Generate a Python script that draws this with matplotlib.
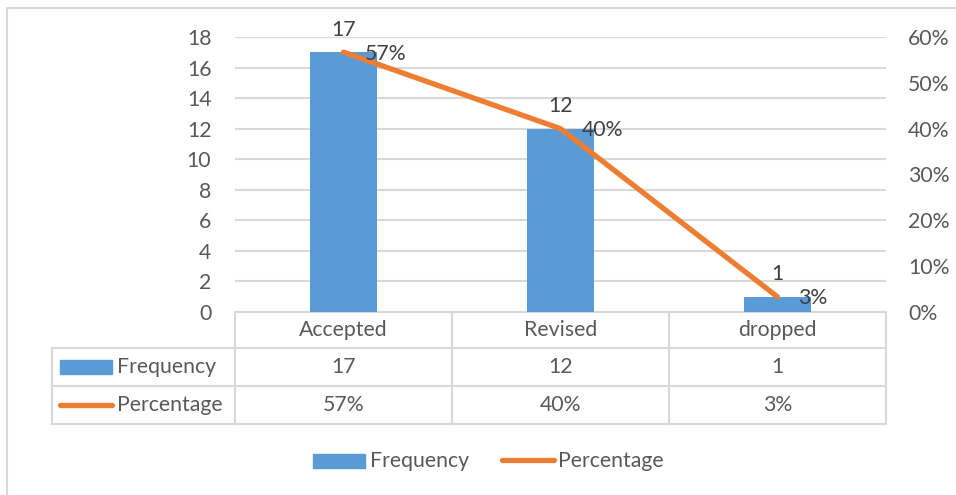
import matplotlib
matplotlib.use('Agg')
import matplotlib.pyplot as plt
from matplotlib.patches import Rectangle
from matplotlib.lines import Line2D

plt.rcParams['font.family'] = ['Lato', 'DejaVu Sans']

categories = ['Accepted', 'Revised', 'dropped']
frequency = [17, 12, 1]
percentage = [0.567, 0.40, 0.033]
pct_labels = ['57%', '40%', '3%']
left_ticks = [0, 2, 4, 6, 8, 10, 12, 14, 16, 18]
right_ticks = [0, 0.1, 0.2, 0.3, 0.4, 0.5, 0.6]

BLUE = '#5B9BD5'
ORANGE = '#ED7D31'
GRID = '#D9D9D9'
TXT = '#595959'
FS = 15.3

W, H = 956, 495
fig = plt.figure(figsize=(W / 100, H / 100), dpi=100)

# overlay in pixel coords for frame, table and legend
ov = fig.add_axes([0, 0, 1, 1])
ov.set_xlim(0, W)
ov.set_ylim(H, 0)
ov.axis('off')
ov.plot([7, 7, W], [H, 8, 8], color=GRID, lw=1.5)

x0, x1, y0, y1 = 235, 886, 37, 312
ax = fig.add_axes([x0 / W, 1 - y1 / H, (x1 - x0) / W, (y1 - y0) / H])
ax.set_xlim(-0.5, len(categories) - 0.5)
ax.set_ylim(0, 18)
ax.set_yticks(left_ticks)
ax.set_xticks([])
ax.grid(axis='y', color=GRID, lw=1.5)
ax.set_axisbelow(True)
for s in ax.spines.values():
    s.set_visible(False)
ax.tick_params(axis='y', length=0, labelsize=FS, labelcolor=TXT, pad=17)

xs = list(range(len(categories)))
ax.bar(xs, frequency, width=0.313, color=BLUE, zorder=2)
for x, v in zip(xs, frequency):
    ax.annotate(str(v), (x, v), xytext=(0, 9), textcoords='offset points',
                ha='center', va='bottom', fontsize=FS, color='#404040')

ax2 = ax.twinx()
ax2.set_ylim(0, 0.6)
ax2.set_yticks(right_ticks)
ax2.set_yticklabels(['%d%%' % round(t * 100) for t in right_ticks])
for s in ax2.spines.values():
    s.set_visible(False)
ax2.tick_params(axis='y', length=0, labelsize=FS, labelcolor=TXT, pad=16)
ax2.plot(xs, percentage, color=ORANGE, lw=3.8, solid_capstyle='round', zorder=3)
for x, v, lab in zip(xs, percentage, pct_labels):
    ax2.annotate(lab, (x, v), xytext=(15, -1), textcoords='offset points',
                 ha='left', va='center', fontsize=FS, color='#404040')

# data table
colw = (x1 - x0) / len(categories)
rows = [312, 348, 386, 424]
lc = dict(color=GRID, lw=1.5)
ov.plot([x0, x1], [rows[0], rows[0]], **lc)
for r in rows[1:]:
    ov.plot([52, x1], [r, r], **lc)
ov.plot([52, 52], [rows[1], rows[3]], **lc)
for i in range(len(categories) + 1):
    ov.plot([x0 + i * colw] * 2, [rows[0], rows[3]], **lc)
for i, c in enumerate(categories):
    cx = x0 + (i + 0.5) * colw
    ov.text(cx, (rows[0] + rows[1]) / 2, c, ha='center', va='center', fontsize=FS, color=TXT)
    ov.text(cx, (rows[1] + rows[2]) / 2, str(frequency[i]), ha='center', va='center',
            fontsize=FS, color=TXT)
    ov.text(cx, (rows[2] + rows[3]) / 2, pct_labels[i], ha='center', va='center',
            fontsize=FS, color=TXT)
ov.add_patch(Rectangle((60, 360), 52, 14, color=BLUE))
ov.text(117, 367, 'Frequency', ha='left', va='center', fontsize=FS, color=TXT)
ov.add_line(Line2D([60, 112], [405, 405], color=ORANGE, lw=3.8, solid_capstyle='round'))
ov.text(117, 405, 'Percentage', ha='left', va='center', fontsize=FS, color=TXT)

# legend
ov.add_patch(Rectangle((313, 454), 52, 14, color=BLUE))
ov.text(370, 461, 'Frequency', ha='left', va='center', fontsize=FS, color=TXT)
ov.add_line(Line2D([502, 554], [460, 460], color=ORANGE, lw=3.8, solid_capstyle='round'))
ov.text(558, 461, 'Percentage', ha='left', va='center', fontsize=FS, color=TXT)

fig.savefig('out.png', dpi=100)
